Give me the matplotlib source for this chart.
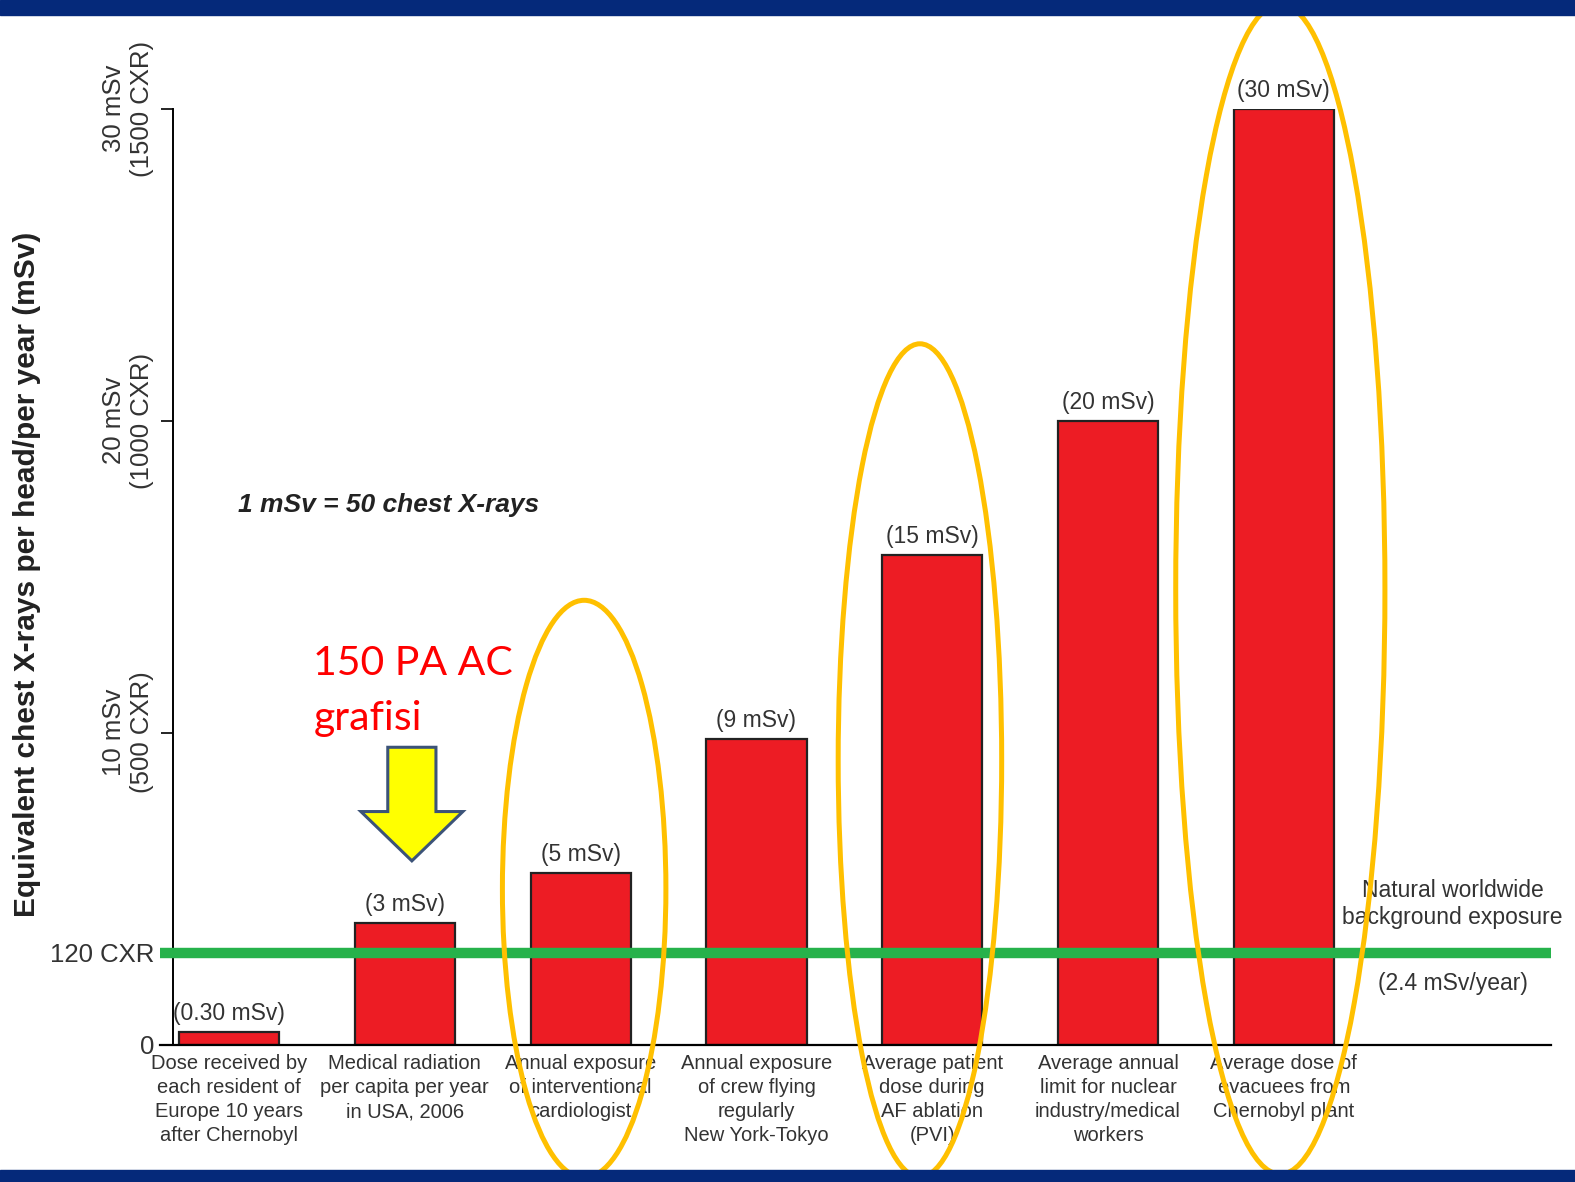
import matplotlib
matplotlib.use("Agg")
import matplotlib.pyplot as plt
from matplotlib.patches import Ellipse, Polygon, Rectangle
import numpy as np

plt.rcParams['font.family'] = ['Liberation Sans', 'DejaVu Sans']

# data (bar heights in mSv as drawn)
categories = ['Dose received by\neach resident of\nEurope 10 years\nafter Chernobyl',
              'Medical radiation\nper capita per year\nin USA, 2006',
              'Annual exposure\nof interventional\ncardiologist',
              'Annual exposure\nof crew flying\nregularly\nNew York-Tokyo',
              'Average patient\ndose during\nAF ablation\n(PVI)',
              'Average annual\nlimit for nuclear\nindustry/medical\nworkers',
              'Average dose of\nevacuees from\nChernobyl plant']
heights = [0.4, 3.9, 5.5, 9.8, 15.7, 20.0, 30.0]
value_labels = ['(0.30 mSv)', '(3 mSv)', '(5 mSv)', '(9 mSv)', '(15 mSv)', '(20 mSv)', '(30 mSv)']
background = 2.95
ytick_vals = [0, background, 10, 20, 30]
ytick_labels = ['0', '120 CXR', '10 mSv\n(500 CXR)', '20 mSv\n(1000 CXR)', '30 mSv\n(1500 CXR)']
circled = [2, 4, 6]

navy = '#05297a'
fig = plt.figure(figsize=(15.75, 11.82), dpi=100)
ax = fig.add_axes([0.1097, 0.1162, 0.8751, 0.792])

x = np.arange(len(categories))
ax.bar(x, heights, width=0.57, color='#ed1c24', edgecolor='#222222', linewidth=1.6, zorder=2)
for xi, h, lab in zip(x, heights, value_labels):
    ax.annotate(lab, (xi, h), xytext=(0, 5), textcoords='offset points',
                ha='center', va='bottom', fontsize=16.5, color='#333333')

ax.set_xlim(-0.32, 7.52)
ax.set_ylim(0, 30)
ax.set_xticks(x)
ax.set_xticklabels(categories, fontsize=14.5, color='#333333', linespacing=1.33)
ax.tick_params(axis='x', length=0, pad=7)
ax.set_yticks(ytick_vals)
ax.set_yticklabels(ytick_labels, fontsize=18.5, color='#333333')
ax.tick_params(axis='y', length=8.5, width=1.2, pad=5)
for lbl in ax.get_yticklabels()[2:]:
    lbl.set_rotation(90)
    lbl.set_va('center')
    lbl.set_multialignment('center')

for s in ['top', 'right']:
    ax.spines[s].set_visible(False)
ax.spines['left'].set_linewidth(1.4)
ax.spines['bottom'].set_linewidth(1.6)
ax.spines['bottom'].set_bounds(-0.39, 7.52)

ax.hlines(background, -0.39, 7.52, color='#26b24b', linewidth=7.5, zorder=3, clip_on=False)
ax.text(6.96, background + 1.55, 'Natural worldwide\nbackground exposure', ha='center', va='center',
        fontsize=16.5, color='#333333', linespacing=1.2)
ax.text(6.96, background - 1.0, '(2.4 mSv/year)', ha='center', va='center', fontsize=16.5, color='#333333')

ax.text(0.05, 17.3, '1 mSv = 50 chest X-rays', fontsize=19, fontweight='bold', fontstyle='italic',
        color='#222222', va='center')

fig.text(27 / 1575, 0.514, 'Equivalent chest X-rays per head/per year (mSv)', rotation=90,
         ha='center', va='center', fontsize=21.5, fontweight='bold', color='#222222')

# red note with yellow arrow
ax.text(0.48, 9.85, '150 PA AC\ngrafisi', color='#ff0000', fontsize=29.5, family='Lato',
        va='bottom', ha='left', linespacing=1.62)
ax_c = 1.04
arrow = Polygon([(ax_c - 0.137, 9.53), (ax_c + 0.137, 9.53), (ax_c + 0.137, 7.47), (ax_c + 0.29, 7.47),
                 (ax_c, 5.89), (ax_c - 0.29, 7.47), (ax_c - 0.137, 7.47)], closed=True,
                facecolor='#ffff00', edgecolor='#3c5378', linewidth=2.2, zorder=4)
ax.add_patch(arrow)

# gold ellipses around selected bars
ell = {2: (2.02, 4.99, 0.93, 18.5), 4: (3.93, 9.11, 0.93, 26.7), 6: (5.98, 14.6, 1.19, 37.5)}
for i in circled:
    cx, cy, w, h = ell[i]
    ax.add_patch(Ellipse((cx, cy), w, h, fill=False, edgecolor='#ffc000', linewidth=3.6,
                         zorder=6, clip_on=False))

fig.patches.append(Rectangle((0, 1 - 15 / 1182), 1, 15 / 1182, transform=fig.transFigure,
                             color=navy, zorder=10))
fig.patches.append(Rectangle((0, 0), 1, 12 / 1182, transform=fig.transFigure,
                             color=navy, zorder=10))

fig.savefig('out.png', dpi=100)
